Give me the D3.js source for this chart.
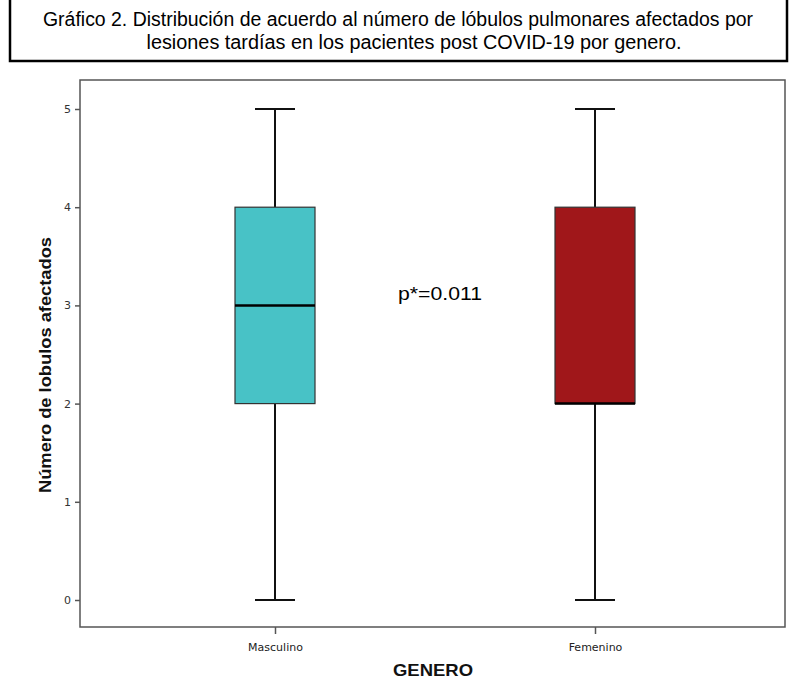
<!DOCTYPE html>
<html><head><meta charset="utf-8">
<script src="https://cdn.jsdelivr.net/npm/d3@7"></script>
<style>body{margin:0;background:#fff}</style>
</head><body>
<script>
const categories = ["Masculino", "Femenino"];
const minVals = [0, 0];
const q1Vals = [2, 2];
const medianVals = [3, 2];
const q3Vals = [4, 4];
const maxVals = [5, 5];
const colors = ["#48C2C6", "#A0171A"];
const yTicks = [0, 1, 2, 3, 4, 5];
const titleLines = ["Gráfico 2. Distribución de acuerdo al número de lóbulos pulmonares afectados por", "lesiones tardías en los pacientes post COVID-19 por genero."];
const annotation = "p*=0.011";

(function () {
const W = 795, H = 681;
const svg = d3.select("body").append("svg").attr("width", W).attr("height", H);

// title box
svg.append("rect").attr("x", 10).attr("y", -2).attr("width", 777).attr("height", 63)
  .attr("fill", "#fff").attr("stroke", "#000").attr("stroke-width", 2.5);
const titleX = [398, 414], titleW = [710, 535];
svg.selectAll("text.title").data(titleLines).enter().append("text")
  .attr("x", (d, i) => titleX[i]).attr("y", (d, i) => 26 + i * 23)
  .attr("text-anchor", "middle").attr("font-family", "Liberation Sans, Arial, sans-serif")
  .attr("font-size", 19.5).attr("textLength", (d, i) => titleW[i]).attr("lengthAdjust", "spacingAndGlyphs")
  .text(d => d);

const pl = 80, pr = 785, pt = 80, pb = 627;
const y = d3.scaleLinear().domain([0, 5]).range([600, 109]);
const x = d3.scalePoint().domain(categories).range([275, 595]);

// frame
svg.append("rect").attr("x", pl).attr("y", pt).attr("width", pr - pl).attr("height", pb - pt)
  .attr("fill", "none").attr("stroke", "#555").attr("stroke-width", 1.5);

// y axis
const yAxis = d3.axisLeft(y).tickValues(yTicks).tickSize(5).tickFormat(d3.format("d"));
const gy = svg.append("g").attr("transform", `translate(${pl},0)`).call(yAxis);
gy.select(".domain").remove();
gy.selectAll("line").attr("stroke", "#555").attr("stroke-width", 1.5);
gy.selectAll("text").attr("font-family", "DejaVu Sans, sans-serif").attr("font-size", 11).attr("fill", "#333").attr("dx", -1);

// x axis
const xAxis = d3.axisBottom(x).tickSize(7).tickPadding(9);
const gx = svg.append("g").attr("transform", `translate(0,${pb})`).call(xAxis);
gx.select(".domain").remove();
gx.selectAll("line").attr("stroke", "#555").attr("stroke-width", 1.5);
gx.selectAll("text").attr("font-family", "DejaVu Sans, sans-serif").attr("font-size", 11).attr("fill", "#222");

// boxes
const boxW = 80, capW = 40;
categories.forEach((c, i) => {
  const cx = x(c);
  const g = svg.append("g");
  g.append("line").attr("x1", cx).attr("x2", cx).attr("y1", y(maxVals[i])).attr("y2", y(q3Vals[i])).attr("stroke", "#111").attr("stroke-width", 2);
  g.append("line").attr("x1", cx).attr("x2", cx).attr("y1", y(q1Vals[i])).attr("y2", y(minVals[i])).attr("stroke", "#111").attr("stroke-width", 2);
  g.append("line").attr("x1", cx - capW / 2).attr("x2", cx + capW / 2).attr("y1", y(maxVals[i])).attr("y2", y(maxVals[i])).attr("stroke", "#111").attr("stroke-width", 2);
  g.append("line").attr("x1", cx - capW / 2).attr("x2", cx + capW / 2).attr("y1", y(minVals[i])).attr("y2", y(minVals[i])).attr("stroke", "#111").attr("stroke-width", 2);
  g.append("rect").attr("x", cx - boxW / 2).attr("y", y(q3Vals[i])).attr("width", boxW).attr("height", y(q1Vals[i]) - y(q3Vals[i]))
    .attr("fill", colors[i]).attr("stroke", "#333").attr("stroke-width", 1.2);
  g.append("line").attr("x1", cx - boxW / 2).attr("x2", cx + boxW / 2).attr("y1", y(medianVals[i])).attr("y2", y(medianVals[i])).attr("stroke", "#000").attr("stroke-width", 2.5);
});

// annotation
svg.append("text").attr("x", 440).attr("y", 300).attr("text-anchor", "middle")
  .attr("font-family", "Liberation Sans, Arial, sans-serif").attr("font-size", 18)
  .attr("textLength", 84).attr("lengthAdjust", "spacingAndGlyphs").text(annotation);

// axis titles
svg.append("text").attr("transform", "translate(51,365) rotate(-90)").attr("text-anchor", "middle")
  .attr("font-family", "Liberation Sans, Arial, sans-serif").attr("font-weight", "bold").attr("font-size", 17)
  .attr("textLength", 256).attr("lengthAdjust", "spacingAndGlyphs")
  .attr("fill", "#111").text("Número de lobulos afectados");
svg.append("text").attr("x", 433).attr("y", 676).attr("text-anchor", "middle")
  .attr("font-family", "Liberation Sans, Arial, sans-serif").attr("font-weight", "bold").attr("font-size", 16.5)
  .attr("textLength", 80).attr("lengthAdjust", "spacingAndGlyphs")
  .attr("fill", "#111").text("GENERO");
})();
</script>
</body></html>
